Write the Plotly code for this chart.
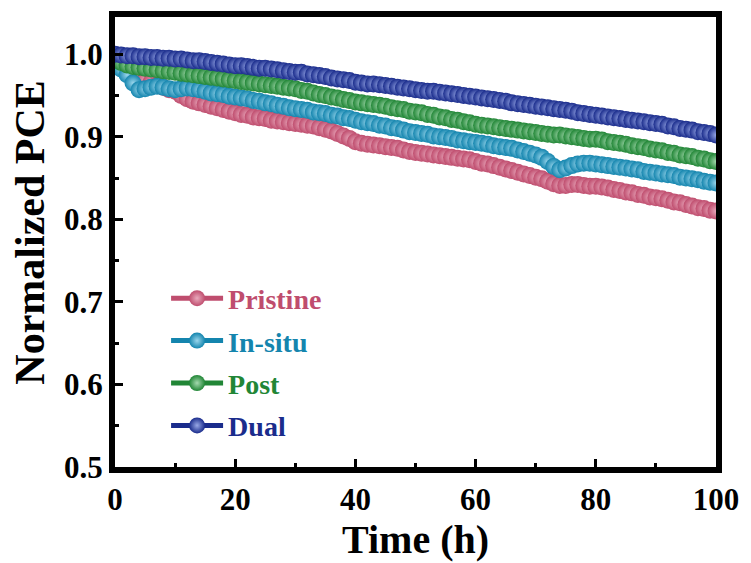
import plotly.graph_objects as go

time_h = list(range(0, 101))

pristine = [0.992, 0.985, 0.980, 0.976, 0.972, 0.969, 0.966, 0.963, 0.960, 0.957,
            0.955, 0.950, 0.946, 0.943, 0.941, 0.939, 0.937, 0.935, 0.933, 0.931,
            0.929, 0.927, 0.926, 0.924, 0.923, 0.922, 0.920, 0.919, 0.918, 0.917,
            0.916, 0.915, 0.914, 0.913, 0.911, 0.909, 0.907, 0.904, 0.901, 0.898,
            0.894, 0.892, 0.891, 0.890, 0.889, 0.888, 0.887, 0.886, 0.884, 0.882,
            0.881, 0.880, 0.879, 0.878, 0.877, 0.876, 0.875, 0.874, 0.873, 0.872,
            0.870, 0.868, 0.867, 0.865, 0.863, 0.861, 0.859, 0.857, 0.855, 0.853,
            0.851, 0.849, 0.846, 0.843, 0.841, 0.841, 0.842, 0.842, 0.841, 0.840,
            0.840, 0.839, 0.838, 0.836, 0.835, 0.833, 0.832, 0.830, 0.829, 0.827,
            0.826, 0.825, 0.823, 0.821, 0.820, 0.818, 0.816, 0.814, 0.813, 0.811, 0.810]

in_situ = [0.990, 0.982, 0.975, 0.965, 0.957, 0.958, 0.960, 0.961, 0.960, 0.958,
           0.957, 0.958, 0.959, 0.958, 0.957, 0.955, 0.953, 0.952, 0.951, 0.949,
           0.948, 0.947, 0.946, 0.944, 0.943, 0.941, 0.940, 0.938, 0.937, 0.935,
           0.934, 0.933, 0.932, 0.930, 0.929, 0.928, 0.926, 0.925, 0.923, 0.922,
           0.920, 0.918, 0.917, 0.916, 0.914, 0.913, 0.911, 0.910, 0.908, 0.906,
           0.905, 0.904, 0.903, 0.901, 0.900, 0.899, 0.898, 0.896, 0.895, 0.894,
           0.893, 0.892, 0.891, 0.889, 0.888, 0.887, 0.886, 0.884, 0.882, 0.880,
           0.878, 0.875, 0.870, 0.864, 0.860, 0.862, 0.865, 0.867, 0.868, 0.868,
           0.867, 0.866, 0.865, 0.864, 0.863, 0.862, 0.861, 0.860, 0.858, 0.857,
           0.856, 0.855, 0.854, 0.853, 0.851, 0.850, 0.849, 0.848, 0.846, 0.845, 0.844]

post = [0.995, 0.990, 0.987, 0.985, 0.984, 0.983, 0.982, 0.981, 0.980, 0.979,
        0.978, 0.977, 0.976, 0.975, 0.974, 0.973, 0.972, 0.971, 0.970, 0.969,
        0.968, 0.967, 0.966, 0.965, 0.964, 0.963, 0.962, 0.961, 0.960, 0.959,
        0.958, 0.956, 0.955, 0.953, 0.951, 0.950, 0.948, 0.947, 0.945, 0.944,
        0.942, 0.941, 0.940, 0.939, 0.938, 0.937, 0.935, 0.934, 0.933, 0.931,
        0.930, 0.929, 0.927, 0.926, 0.924, 0.923, 0.921, 0.920, 0.918, 0.917,
        0.915, 0.914, 0.913, 0.912, 0.911, 0.910, 0.909, 0.908, 0.907, 0.906,
        0.905, 0.904, 0.903, 0.902, 0.902, 0.901, 0.900, 0.899, 0.898, 0.897,
        0.897, 0.896, 0.894, 0.893, 0.892, 0.891, 0.889, 0.888, 0.887, 0.885,
        0.884, 0.883, 0.881, 0.880, 0.878, 0.877, 0.876, 0.874, 0.873, 0.871, 0.870]

dual = [1.000, 0.999, 0.998, 0.998, 0.997, 0.997, 0.996, 0.996, 0.995, 0.995,
        0.994, 0.994, 0.993, 0.992, 0.992, 0.991, 0.990, 0.989, 0.988, 0.987,
        0.986, 0.986, 0.985, 0.984, 0.983, 0.983, 0.982, 0.981, 0.980, 0.979,
        0.978, 0.978, 0.976, 0.975, 0.974, 0.973, 0.971, 0.970, 0.969, 0.968,
        0.966, 0.965, 0.964, 0.964, 0.963, 0.962, 0.961, 0.960, 0.959, 0.958,
        0.957, 0.956, 0.955, 0.955, 0.954, 0.953, 0.952, 0.951, 0.950, 0.949,
        0.948, 0.947, 0.946, 0.945, 0.944, 0.943, 0.941, 0.940, 0.939, 0.938,
        0.937, 0.936, 0.935, 0.934, 0.933, 0.932, 0.931, 0.929, 0.928, 0.927,
        0.926, 0.925, 0.924, 0.923, 0.922, 0.921, 0.920, 0.919, 0.918, 0.917,
        0.916, 0.915, 0.913, 0.912, 0.910, 0.909, 0.908, 0.906, 0.905, 0.904, 0.902]

series_names = ["Pristine", "In-situ", "Post", "Dual"]
series_values = [pristine, in_situ, post, dual]
series_colors = ["#BF4D6E", "#1485AE", "#218636", "#1A2C8C"]
series_highlights = ["#E9A9BC", "#9AD6EC", "#A4D9AE", "#98A8E6"]

y_tick_vals = [0.5, 0.6, 0.7, 0.8, 0.9, 1.0]
y_tick_text = ["0.5", "0.6", "0.7", "0.8", "0.9", "1.0"]
x_tick_vals = [0, 20, 40, 60, 80, 100]

FONT = "Liberation Serif"

fig = go.Figure()
for name, vals, col, hi in zip(series_names, series_values, series_colors, series_highlights):
    fig.add_trace(go.Scatter(
        x=time_h, y=vals,
        name=f"<span style='color:{col}'><b>{name}</b></span>",
        mode="lines+markers",
        legendgroup=name,
        line=dict(color=col, width=5),
        marker=dict(symbol="circle", size=17, color=col,
                    gradient=dict(type="radial", color=hi),
                    line=dict(width=0)),
    ))

fig.update_layout(
    width=743, height=555,
    margin=dict(l=107, r=35, t=9, b=96),
    paper_bgcolor="white", plot_bgcolor="white",
    font=dict(family=FONT, color="black"),
    showlegend=True,
    legend=dict(
        x=0.085, y=0.43, xanchor="left", yanchor="top",
        bgcolor="rgba(0,0,0,0)", borderwidth=0,
        traceorder="grouped", tracegroupgap=3,
        font=dict(family=FONT, size=28),
        itemwidth=52,
    ),
    xaxis=dict(
        range=[0, 100], tickvals=x_tick_vals,
        automargin=False,
        ticks="inside", ticklen=8, tickwidth=3, tickcolor="black",
        minor=dict(tickvals=[10, 30, 50, 70, 90], ticks="inside", ticklen=4, tickwidth=3, tickcolor="black"),
        showline=True, linewidth=6, linecolor="black", mirror=True,
        showgrid=False, zeroline=False,
        tickfont=dict(family=FONT, size=31, color="black", weight="bold"),
        title=dict(text="<b>Time (h)</b>", font=dict(family=FONT, size=40, color="black"), standoff=0),
    ),
    yaxis=dict(
        range=[0.5, 1.045], tickvals=y_tick_vals, ticktext=y_tick_text,
        automargin=False,
        ticks="inside", ticklen=8, tickwidth=3, tickcolor="black",
        minor=dict(tickvals=[0.55, 0.65, 0.75, 0.85, 0.95], ticks="inside", ticklen=4, tickwidth=3, tickcolor="black"),
        showline=True, linewidth=6, linecolor="black", mirror=True,
        showgrid=False, zeroline=False,
        tickfont=dict(family=FONT, size=31, color="black", weight="bold"),
    ),
    annotations=[dict(
        text="<b>Normalized PCE</b>", textangle=-90,
        xref="paper", yref="paper", x=-0.142, y=0.52,
        xanchor="center", yanchor="middle", showarrow=False,
        font=dict(family=FONT, size=42, color="black"),
    )],
)

fig.write_html("out.html")
